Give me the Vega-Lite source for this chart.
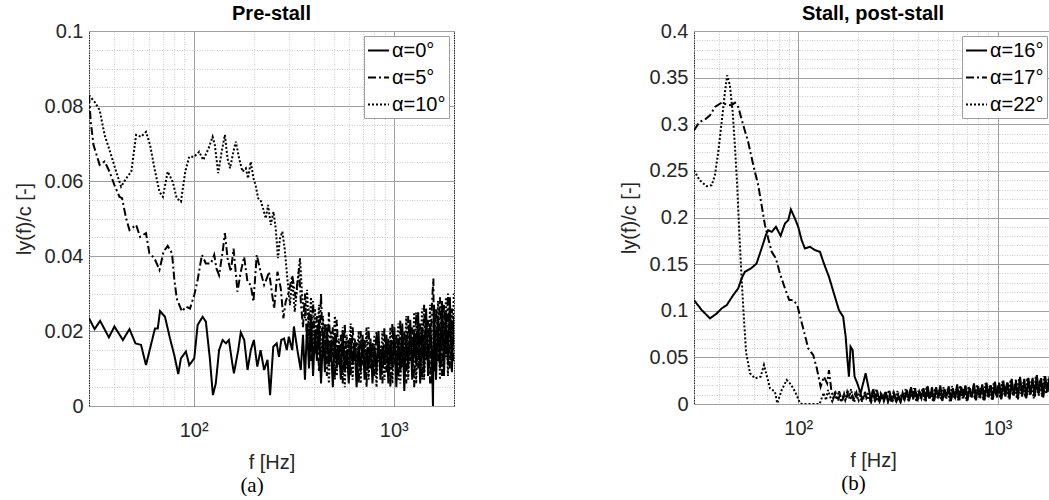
{
"$schema":"https://vega.github.io/schema/vega-lite/v6.json",
"background":"white",
"padding":{"left":13,"top":3,"right":0,"bottom":0},
"config":{
 "font":"Liberation Sans",
 "view":{"stroke":"#262626","strokeWidth":1},
 "axis":{"domain":false,"ticks":false,"labelFont":"Liberation Sans","labelFontSize":20,"labelColor":"#262626","titleFont":"Liberation Sans","titleFontSize":20,"titleFontWeight":"normal","titleColor":"#262626","labelOverlap":false,"labelFlush":false},
 "legend":{"orient":"top-right","offset":5,"fillColor":"white","strokeColor":"#9e9e9e","padding":3,"labelFont":"Liberation Sans","labelFontSize":20,"labelColor":"#000","symbolType":"stroke","symbolSize":441,"symbolStrokeWidth":2,"symbolStrokeColor":"black","rowPadding":5,"labelOffset":2},
 "title":{"font":"Liberation Sans","fontSize":20,"fontWeight":"bold","color":"#000"}
},
"datasets":{
"pre":[
{"s":"α=0°","f":30,"v":0.0234},{"s":"α=0°","f":32,"v":0.0205},{"s":"α=0°","f":34.1,"v":0.0227},{"s":"α=0°","f":37.7,"v":0.0183},{"s":"α=0°","f":40.2,"v":0.0212},{"s":"α=0°","f":44.3,"v":0.0176},{"s":"α=0°","f":47.8,"v":0.0205},{"s":"α=0°","f":51.2,"v":0.0167},{"s":"α=0°","f":54.6,"v":0.0163},{"s":"α=0°","f":57.8,"v":0.0109},{"s":"α=0°","f":61.2,"v":0.0163},{"s":"α=0°","f":64.1,"v":0.0207},{"s":"α=0°","f":66.2,"v":0.0207},{"s":"α=0°","f":67.9,"v":0.0253},{"s":"α=0°","f":71.9,"v":0.0238},{"s":"α=0°","f":76.2,"v":0.018},{"s":"α=0°","f":80,"v":0.0136},{"s":"α=0°","f":83.8,"v":0.0085},{"s":"α=0°","f":86.4,"v":0.0127},{"s":"α=0°","f":91.5,"v":0.0145},{"s":"α=0°","f":95.1,"v":0.0109},{"s":"α=0°","f":100.7,"v":0.0127},{"s":"α=0°","f":104.7,"v":0.0216},{"s":"α=0°","f":110.9,"v":0.0238},{"s":"α=0°","f":115.1,"v":0.0225},{"s":"α=0°","f":120.5,"v":0.0127},{"s":"α=0°","f":124.8,"v":0.0029},{"s":"α=0°","f":129,"v":0.006},{"s":"α=0°","f":134,"v":0.0149},{"s":"α=0°","f":139.6,"v":0.0176},{"s":"α=0°","f":145,"v":0.0167},{"s":"α=0°","f":150,"v":0.0176},{"s":"α=0°","f":156,"v":0.0114},{"s":"α=0°","f":159,"v":0.0087},{"s":"α=0°","f":167,"v":0.0149},{"s":"α=0°","f":172,"v":0.0196},{"s":"α=0°","f":179,"v":0.0176},{"s":"α=0°","f":186,"v":0.0096},{"s":"α=0°","f":193,"v":0.0149},{"s":"α=0°","f":200,"v":0.0176},{"s":"α=0°","f":208,"v":0.0105},{"s":"α=0°","f":216,"v":0.0149},{"s":"α=0°","f":225,"v":0.0096},{"s":"α=0°","f":234,"v":0.0123},{"s":"α=0°","f":241,"v":0.0029},{"s":"α=0°","f":250,"v":0.0158},{"s":"α=0°","f":260,"v":0.0167},{"s":"α=0°","f":267,"v":0.0131},{"s":"α=0°","f":274,"v":0.0176},{"s":"α=0°","f":283,"v":0.018},{"s":"α=0°","f":292,"v":0.0149},{"s":"α=0°","f":299,"v":0.0185},{"s":"α=0°","f":311,"v":0.0149},{"s":"α=0°","f":317,"v":0.0212},{"s":"α=0°","f":330,"v":0.0149},{"s":"α=0°","f":343,"v":0.0096},
{"s":"α=0°","f":352,"v":0.019},{"s":"α=0°","f":360,"v":0.007},{"s":"α=0°","f":369,"v":0.022},{"s":"α=0°","f":377,"v":0.010},{"s":"α=0°","f":386,"v":0.024},{"s":"α=0°","f":395,"v":0.008},{"s":"α=0°","f":404,"v":0.020},{"s":"α=0°","f":413,"v":0.012},{"s":"α=0°","f":423,"v":0.023},{"s":"α=0°","f":433,"v":0.006},{"s":"α=0°","f":443,"v":0.019},{"s":"α=0°","f":453,"v":0.009},{"s":"α=0°","f":463,"v":0.021},{"s":"α=0°","f":474,"v":0.011},{"s":"α=0°","f":485,"v":0.017},{"s":"α=0°","f":496,"v":0.005},{"s":"α=0°","f":508,"v":0.019},{"s":"α=0°","f":519,"v":0.010},{"s":"α=0°","f":531,"v":0.016},{"s":"α=0°","f":544,"v":0.007},{"s":"α=0°","f":556,"v":0.020},{"s":"α=0°","f":569,"v":0.009},{"s":"α=0°","f":582,"v":0.015},{"s":"α=0°","f":596,"v":0.006},{"s":"α=0°","f":609,"v":0.018},{"s":"α=0°","f":623,"v":0.011},{"s":"α=0°","f":638,"v":0.017},{"s":"α=0°","f":652,"v":0.005},{"s":"α=0°","f":668,"v":0.016},{"s":"α=0°","f":683,"v":0.009},{"s":"α=0°","f":699,"v":0.019},{"s":"α=0°","f":715,"v":0.007},{"s":"α=0°","f":731,"v":0.015},{"s":"α=0°","f":748,"v":0.010},{"s":"α=0°","f":765,"v":0.018},{"s":"α=0°","f":783,"v":0.006},{"s":"α=0°","f":801,"v":0.016},{"s":"α=0°","f":820,"v":0.009},{"s":"α=0°","f":839,"v":0.020},{"s":"α=0°","f":858,"v":0.007},{"s":"α=0°","f":878,"v":0.016},{"s":"α=0°","f":898,"v":0.011},{"s":"α=0°","f":919,"v":0.019},{"s":"α=0°","f":940,"v":0.006},{"s":"α=0°","f":962,"v":0.017},{"s":"α=0°","f":984,"v":0.010},{"s":"α=0°","f":1007,"v":0.021},{"s":"α=0°","f":1030,"v":0.005},{"s":"α=0°","f":1054,"v":0.018},{"s":"α=0°","f":1078,"v":0.009},{"s":"α=0°","f":1103,"v":0.022},{"s":"α=0°","f":1129,"v":0.004},{"s":"α=0°","f":1155,"v":0.019},{"s":"α=0°","f":1181,"v":0.010},{"s":"α=0°","f":1209,"v":0.023},{"s":"α=0°","f":1236,"v":0.007},{"s":"α=0°","f":1265,"v":0.020},{"s":"α=0°","f":1294,"v":0.011},{"s":"α=0°","f":1324,"v":0.025},{"s":"α=0°","f":1355,"v":0.006},{"s":"α=0°","f":1386,"v":0.021},{"s":"α=0°","f":1418,"v":0.009},{"s":"α=0°","f":1451,"v":0.026},{"s":"α=0°","f":1484,"v":0.008},{"s":"α=0°","f":1519,"v":0.022},{"s":"α=0°","f":1554,"v":0.012},{"s":"α=0°","f":1570,"v":0.0},{"s":"α=0°","f":1589,"v":0.027},{"s":"α=0°","f":1626,"v":0.007},{"s":"α=0°","f":1664,"v":0.024},{"s":"α=0°","f":1702,"v":0.010},{"s":"α=0°","f":1742,"v":0.028},{"s":"α=0°","f":1782,"v":0.008},{"s":"α=0°","f":1823,"v":0.025},{"s":"α=0°","f":1865,"v":0.011},{"s":"α=0°","f":1908,"v":0.029},{"s":"α=0°","f":1952,"v":0.009},{"s":"α=0°","f":1997,"v":0.024},
{"s":"α=5°","f":30,"v":0.0829},{"s":"α=5°","f":30.6,"v":0.0758},{"s":"α=5°","f":31.6,"v":0.0696},{"s":"α=5°","f":33.9,"v":0.0643},{"s":"α=5°","f":35.9,"v":0.0652},{"s":"α=5°","f":38,"v":0.0625},{"s":"α=5°","f":40.2,"v":0.0589},{"s":"α=5°","f":42.6,"v":0.0558},{"s":"α=5°","f":43.9,"v":0.0554},{"s":"α=5°","f":46,"v":0.05},{"s":"α=5°","f":47.8,"v":0.0469},{"s":"α=5°","f":51.6,"v":0.0483},{"s":"α=5°","f":54,"v":0.0451},{"s":"α=5°","f":57.8,"v":0.0461},{"s":"α=5°","f":60.1,"v":0.0407},{"s":"α=5°","f":63.7,"v":0.0394},{"s":"α=5°","f":67.5,"v":0.0363},{"s":"α=5°","f":70.7,"v":0.0411},{"s":"α=5°","f":74.2,"v":0.0427},{"s":"α=5°","f":78,"v":0.0407},{"s":"α=5°","f":80,"v":0.034},{"s":"α=5°","f":82.3,"v":0.0287},{"s":"α=5°","f":87.4,"v":0.0252},{"s":"α=5°","f":91.5,"v":0.0265},{"s":"α=5°","f":95.9,"v":0.026},{"s":"α=5°","f":100.7,"v":0.0296},{"s":"α=5°","f":104.7,"v":0.0336},{"s":"α=5°","f":110,"v":0.0403},{"s":"α=5°","f":115.1,"v":0.038},{"s":"α=5°","f":122,"v":0.038},{"s":"α=5°","f":126.7,"v":0.0403},{"s":"α=5°","f":130,"v":0.0367},{"s":"α=5°","f":134,"v":0.0349},{"s":"α=5°","f":139.6,"v":0.0411},{"s":"α=5°","f":143.3,"v":0.0461},{"s":"α=5°","f":147.7,"v":0.0394},{"s":"α=5°","f":153.4,"v":0.0358},{"s":"α=5°","f":158.3,"v":0.042},{"s":"α=5°","f":165.6,"v":0.0305},{"s":"α=5°","f":172,"v":0.0358},{"s":"α=5°","f":178.8,"v":0.0398},{"s":"α=5°","f":185.8,"v":0.0331},{"s":"α=5°","f":192.9,"v":0.0323},{"s":"α=5°","f":199,"v":0.0278},{"s":"α=5°","f":206.7,"v":0.0403},{"s":"α=5°","f":216,"v":0.0358},{"s":"α=5°","f":225,"v":0.0323},{"s":"α=5°","f":232,"v":0.034},{"s":"α=5°","f":238,"v":0.0358},{"s":"α=5°","f":245.7,"v":0.0305},{"s":"α=5°","f":252.5,"v":0.026},{"s":"α=5°","f":262.4,"v":0.0358},{"s":"α=5°","f":272.5,"v":0.0314},{"s":"α=5°","f":280.8,"v":0.0234},{"s":"α=5°","f":288.3,"v":0.0278},{"s":"α=5°","f":299.4,"v":0.0305},{"s":"α=5°","f":311,"v":0.0349},{"s":"α=5°","f":323.6,"v":0.0287},{"s":"α=5°","f":336,"v":0.0367},
{"s":"α=5°","f":344,"v":0.027},{"s":"α=5°","f":352,"v":0.021},{"s":"α=5°","f":360,"v":0.030},{"s":"α=5°","f":369,"v":0.016},{"s":"α=5°","f":377,"v":0.026},{"s":"α=5°","f":386,"v":0.012},{"s":"α=5°","f":395,"v":0.028},{"s":"α=5°","f":404,"v":0.014},{"s":"α=5°","f":413,"v":0.024},{"s":"α=5°","f":423,"v":0.009},{"s":"α=5°","f":433,"v":0.030},{"s":"α=5°","f":443,"v":0.013},{"s":"α=5°","f":453,"v":0.022},{"s":"α=5°","f":463,"v":0.008},{"s":"α=5°","f":474,"v":0.025},{"s":"α=5°","f":485,"v":0.012},{"s":"α=5°","f":496,"v":0.021},{"s":"α=5°","f":508,"v":0.007},{"s":"α=5°","f":519,"v":0.023},{"s":"α=5°","f":531,"v":0.011},{"s":"α=5°","f":544,"v":0.019},{"s":"α=5°","f":556,"v":0.006},{"s":"α=5°","f":569,"v":0.022},{"s":"α=5°","f":582,"v":0.010},{"s":"α=5°","f":596,"v":0.018},{"s":"α=5°","f":609,"v":0.008},{"s":"α=5°","f":623,"v":0.021},{"s":"α=5°","f":638,"v":0.012},{"s":"α=5°","f":652,"v":0.017},{"s":"α=5°","f":668,"v":0.006},{"s":"α=5°","f":683,"v":0.020},{"s":"α=5°","f":699,"v":0.011},{"s":"α=5°","f":715,"v":0.018},{"s":"α=5°","f":731,"v":0.005},{"s":"α=5°","f":748,"v":0.021},{"s":"α=5°","f":765,"v":0.010},{"s":"α=5°","f":783,"v":0.017},{"s":"α=5°","f":801,"v":0.008},{"s":"α=5°","f":820,"v":0.020},{"s":"α=5°","f":839,"v":0.012},{"s":"α=5°","f":858,"v":0.016},{"s":"α=5°","f":878,"v":0.006},{"s":"α=5°","f":898,"v":0.021},{"s":"α=5°","f":919,"v":0.009},{"s":"α=5°","f":940,"v":0.018},{"s":"α=5°","f":962,"v":0.005},{"s":"α=5°","f":984,"v":0.022},{"s":"α=5°","f":1007,"v":0.011},{"s":"α=5°","f":1030,"v":0.019},{"s":"α=5°","f":1054,"v":0.007},{"s":"α=5°","f":1078,"v":0.023},{"s":"α=5°","f":1103,"v":0.010},{"s":"α=5°","f":1129,"v":0.020},{"s":"α=5°","f":1155,"v":0.006},{"s":"α=5°","f":1181,"v":0.024},{"s":"α=5°","f":1209,"v":0.012},{"s":"α=5°","f":1236,"v":0.021},{"s":"α=5°","f":1265,"v":0.005},{"s":"α=5°","f":1294,"v":0.025},{"s":"α=5°","f":1324,"v":0.010},{"s":"α=5°","f":1355,"v":0.022},{"s":"α=5°","f":1386,"v":0.007},{"s":"α=5°","f":1418,"v":0.027},{"s":"α=5°","f":1451,"v":0.012},{"s":"α=5°","f":1484,"v":0.023},{"s":"α=5°","f":1519,"v":0.006},{"s":"α=5°","f":1554,"v":0.028},{"s":"α=5°","f":1578,"v":0.034},{"s":"α=5°","f":1589,"v":0.009},{"s":"α=5°","f":1626,"v":0.026},{"s":"α=5°","f":1664,"v":0.012},{"s":"α=5°","f":1702,"v":0.029},{"s":"α=5°","f":1742,"v":0.008},{"s":"α=5°","f":1782,"v":0.027},{"s":"α=5°","f":1823,"v":0.013},{"s":"α=5°","f":1865,"v":0.030},{"s":"α=5°","f":1908,"v":0.010},{"s":"α=5°","f":1952,"v":0.026},{"s":"α=5°","f":1997,"v":0.012},
{"s":"α=10°","f":30,"v":0.0829},{"s":"α=10°","f":32,"v":0.0811},{"s":"α=10°","f":33.9,"v":0.0789},{"s":"α=10°","f":35.9,"v":0.0723},{"s":"α=10°","f":38.7,"v":0.0669},{"s":"α=10°","f":41,"v":0.0625},{"s":"α=10°","f":43.4,"v":0.0585},{"s":"α=10°","f":46,"v":0.0607},{"s":"α=10°","f":48.8,"v":0.0625},{"s":"α=10°","f":51.6,"v":0.0723},{"s":"α=10°","f":54.6,"v":0.0718},{"s":"α=10°","f":57.8,"v":0.0731},{"s":"α=10°","f":60.6,"v":0.0696},{"s":"α=10°","f":63.7,"v":0.0634},{"s":"α=10°","f":67.5,"v":0.0571},{"s":"α=10°","f":70.2,"v":0.0558},{"s":"α=10°","f":74.2,"v":0.0625},{"s":"α=10°","f":78.6,"v":0.0598},{"s":"α=10°","f":82.3,"v":0.0554},{"s":"α=10°","f":86.4,"v":0.0545},{"s":"α=10°","f":90.8,"v":0.0625},{"s":"α=10°","f":95.1,"v":0.0665},{"s":"α=10°","f":100.7,"v":0.0665},{"s":"α=10°","f":106.6,"v":0.0678},{"s":"α=10°","f":111.7,"v":0.0656},{"s":"α=10°","f":118.8,"v":0.0687},{"s":"α=10°","f":124.4,"v":0.0718},{"s":"α=10°","f":127.6,"v":0.0696},{"s":"α=10°","f":132.7,"v":0.0621},{"s":"α=10°","f":138,"v":0.0678},{"s":"α=10°","f":143.3,"v":0.0723},{"s":"α=10°","f":147.7,"v":0.066},{"s":"α=10°","f":152,"v":0.0634},{"s":"α=10°","f":158,"v":0.0678},{"s":"α=10°","f":162.5,"v":0.0705},{"s":"α=10°","f":168.8,"v":0.066},{"s":"α=10°","f":175.4,"v":0.0625},{"s":"α=10°","f":182.3,"v":0.0634},{"s":"α=10°","f":187,"v":0.0607},{"s":"α=10°","f":192.9,"v":0.0651},{"s":"α=10°","f":199,"v":0.0607},{"s":"α=10°","f":204,"v":0.0589},{"s":"α=10°","f":210,"v":0.0554},{"s":"α=10°","f":216,"v":0.0549},{"s":"α=10°","f":223.3,"v":0.0523},{"s":"α=10°","f":229.4,"v":0.05},{"s":"α=10°","f":235.5,"v":0.0536},{"s":"α=10°","f":242.9,"v":0.0483},{"s":"α=10°","f":250.6,"v":0.0518},{"s":"α=10°","f":257,"v":0.0474},{"s":"α=10°","f":264,"v":0.0394},{"s":"α=10°","f":270,"v":0.0447},{"s":"α=10°","f":277.5,"v":0.0465},{"s":"α=10°","f":285,"v":0.042},{"s":"α=10°","f":294,"v":0.034},{"s":"α=10°","f":303,"v":0.0269},{"s":"α=10°","f":311,"v":0.034},{"s":"α=10°","f":320,"v":0.0251},{"s":"α=10°","f":330,"v":0.0323},{"s":"α=10°","f":340,"v":0.0394},{"s":"α=10°","f":349,"v":0.0287},{"s":"α=10°","f":359,"v":0.0234},
{"s":"α=10°","f":369,"v":0.031},{"s":"α=10°","f":377,"v":0.018},{"s":"α=10°","f":386,"v":0.029},{"s":"α=10°","f":395,"v":0.012},{"s":"α=10°","f":404,"v":0.026},{"s":"α=10°","f":413,"v":0.015},{"s":"α=10°","f":423,"v":0.027},{"s":"α=10°","f":433,"v":0.007},{"s":"α=10°","f":443,"v":0.024},{"s":"α=10°","f":453,"v":0.012},{"s":"α=10°","f":463,"v":0.022},{"s":"α=10°","f":474,"v":0.006},{"s":"α=10°","f":485,"v":0.020},{"s":"α=10°","f":496,"v":0.013},{"s":"α=10°","f":508,"v":0.024},{"s":"α=10°","f":519,"v":0.008},{"s":"α=10°","f":531,"v":0.018},{"s":"α=10°","f":544,"v":0.012},{"s":"α=10°","f":556,"v":0.021},{"s":"α=10°","f":569,"v":0.005},{"s":"α=10°","f":582,"v":0.019},{"s":"α=10°","f":596,"v":0.010},{"s":"α=10°","f":609,"v":0.022},{"s":"α=10°","f":623,"v":0.007},{"s":"α=10°","f":638,"v":0.018},{"s":"α=10°","f":652,"v":0.011},{"s":"α=10°","f":668,"v":0.020},{"s":"α=10°","f":683,"v":0.006},{"s":"α=10°","f":699,"v":0.017},{"s":"α=10°","f":715,"v":0.010},{"s":"α=10°","f":731,"v":0.021},{"s":"α=10°","f":748,"v":0.007},{"s":"α=10°","f":765,"v":0.016},{"s":"α=10°","f":783,"v":0.011},{"s":"α=10°","f":801,"v":0.019},{"s":"α=10°","f":820,"v":0.005},{"s":"α=10°","f":839,"v":0.017},{"s":"α=10°","f":858,"v":0.010},{"s":"α=10°","f":878,"v":0.020},{"s":"α=10°","f":898,"v":0.007},{"s":"α=10°","f":919,"v":0.016},{"s":"α=10°","f":940,"v":0.011},{"s":"α=10°","f":962,"v":0.021},{"s":"α=10°","f":984,"v":0.006},{"s":"α=10°","f":1007,"v":0.018},{"s":"α=10°","f":1030,"v":0.012},{"s":"α=10°","f":1054,"v":0.022},{"s":"α=10°","f":1078,"v":0.006},{"s":"α=10°","f":1103,"v":0.019},{"s":"α=10°","f":1129,"v":0.011},{"s":"α=10°","f":1155,"v":0.024},{"s":"α=10°","f":1181,"v":0.007},{"s":"α=10°","f":1209,"v":0.020},{"s":"α=10°","f":1236,"v":0.010},{"s":"α=10°","f":1265,"v":0.025},{"s":"α=10°","f":1294,"v":0.006},{"s":"α=10°","f":1324,"v":0.021},{"s":"α=10°","f":1355,"v":0.012},{"s":"α=10°","f":1386,"v":0.026},{"s":"α=10°","f":1418,"v":0.007},{"s":"α=10°","f":1451,"v":0.022},{"s":"α=10°","f":1484,"v":0.010},{"s":"α=10°","f":1519,"v":0.027},{"s":"α=10°","f":1554,"v":0.006},{"s":"α=10°","f":1589,"v":0.024},{"s":"α=10°","f":1626,"v":0.011},{"s":"α=10°","f":1664,"v":0.028},{"s":"α=10°","f":1702,"v":0.007},{"s":"α=10°","f":1742,"v":0.025},{"s":"α=10°","f":1782,"v":0.012},{"s":"α=10°","f":1823,"v":0.029},{"s":"α=10°","f":1865,"v":0.008},{"s":"α=10°","f":1908,"v":0.027},{"s":"α=10°","f":1952,"v":0.013},{"s":"α=10°","f":1997,"v":0.030}
],
"post":[
{"s":"α=16°","f":30,"v":0.1114},{"s":"α=16°","f":32.8,"v":0.1007},{"s":"α=16°","f":36.1,"v":0.0918},{"s":"α=16°","f":39,"v":0.0971},{"s":"α=16°","f":41.3,"v":0.1025},{"s":"α=16°","f":43.8,"v":0.1061},{"s":"α=16°","f":47.2,"v":0.1168},{"s":"α=16°","f":50,"v":0.124},{"s":"α=16°","f":52,"v":0.1347},{"s":"α=16°","f":54,"v":0.1418},{"s":"α=16°","f":58.4,"v":0.146},{"s":"α=16°","f":61.8,"v":0.1507},{"s":"α=16°","f":65.5,"v":0.1668},{"s":"α=16°","f":68.8,"v":0.1811},{"s":"α=16°","f":70.7,"v":0.1864},{"s":"α=16°","f":73.6,"v":0.1846},{"s":"α=16°","f":77.3,"v":0.19},{"s":"α=16°","f":81.6,"v":0.1804},{"s":"α=16°","f":85.8,"v":0.1936},{"s":"α=16°","f":89.1,"v":0.1971},{"s":"α=16°","f":91.9,"v":0.2086},{"s":"α=16°","f":96.2,"v":0.199},{"s":"α=16°","f":100,"v":0.19},{"s":"α=16°","f":104,"v":0.1757},{"s":"α=16°","f":108,"v":0.1668},{"s":"α=16°","f":114.5,"v":0.1686},{"s":"α=16°","f":121.4,"v":0.165},{"s":"α=16°","f":128.5,"v":0.1632},{"s":"α=16°","f":134.5,"v":0.1507},{"s":"α=16°","f":142.6,"v":0.1364},{"s":"α=16°","f":151,"v":0.1186},{"s":"α=16°","f":160,"v":0.1007},{"s":"α=16°","f":168,"v":0.0936},{"s":"α=16°","f":173,"v":0.0721},{"s":"α=16°","f":176,"v":0.0507},{"s":"α=16°","f":179.6,"v":0.0293},{"s":"α=16°","f":183,"v":0.0614},{"s":"α=16°","f":187.4,"v":0.0579},{"s":"α=16°","f":191.7,"v":0.0293},{"s":"α=16°","f":197.8,"v":0.0222},{"s":"α=16°","f":205.6,"v":0.0115},{"s":"α=16°","f":217.8,"v":0.0329},{"s":"α=16°","f":226.4,"v":0.015},
{"s":"α=16°","f":232,"v":0.004},{"s":"α=16°","f":238,"v":0.016},{"s":"α=16°","f":244,"v":0.006},{"s":"α=16°","f":250,"v":0.012},{"s":"α=16°","f":256,"v":0.003},{"s":"α=16°","f":262,"v":0.010},{"s":"α=16°","f":269,"v":0.005},{"s":"α=16°","f":275,"v":0.013},{"s":"α=16°","f":282,"v":0.002},{"s":"α=16°","f":289,"v":0.009},{"s":"α=16°","f":296,"v":0.004},{"s":"α=16°","f":303,"v":0.011},{"s":"α=16°","f":311,"v":0.003},{"s":"α=16°","f":318,"v":0.008},{"s":"α=16°","f":326,"v":0.002},{"s":"α=16°","f":334,"v":0.012},{"s":"α=16°","f":342,"v":0.005},{"s":"α=16°","f":351,"v":0.015},{"s":"α=16°","f":359,"v":0.004},{"s":"α=16°","f":368,"v":0.018},{"s":"α=16°","f":377,"v":0.006},{"s":"α=16°","f":386,"v":0.016},{"s":"α=16°","f":396,"v":0.003},{"s":"α=16°","f":405,"v":0.014},{"s":"α=16°","f":415,"v":0.007},{"s":"α=16°","f":425,"v":0.017},{"s":"α=16°","f":436,"v":0.004},{"s":"α=16°","f":446,"v":0.019},{"s":"α=16°","f":457,"v":0.006},{"s":"α=16°","f":469,"v":0.015},{"s":"α=16°","f":480,"v":0.003},{"s":"α=16°","f":492,"v":0.018},{"s":"α=16°","f":504,"v":0.007},{"s":"α=16°","f":516,"v":0.020},{"s":"α=16°","f":529,"v":0.004},{"s":"α=16°","f":542,"v":0.016},{"s":"α=16°","f":555,"v":0.008},{"s":"α=16°","f":569,"v":0.019},{"s":"α=16°","f":583,"v":0.003},{"s":"α=16°","f":597,"v":0.017},{"s":"α=16°","f":612,"v":0.006},{"s":"α=16°","f":627,"v":0.021},{"s":"α=16°","f":642,"v":0.005},{"s":"α=16°","f":658,"v":0.018},{"s":"α=16°","f":674,"v":0.008},{"s":"α=16°","f":690,"v":0.020},{"s":"α=16°","f":707,"v":0.004},{"s":"α=16°","f":725,"v":0.017},{"s":"α=16°","f":742,"v":0.007},{"s":"α=16°","f":761,"v":0.022},{"s":"α=16°","f":779,"v":0.005},{"s":"α=16°","f":799,"v":0.019},{"s":"α=16°","f":818,"v":0.008},{"s":"α=16°","f":838,"v":0.021},{"s":"α=16°","f":859,"v":0.004},{"s":"α=16°","f":880,"v":0.023},{"s":"α=16°","f":901,"v":0.007},{"s":"α=16°","f":924,"v":0.020},{"s":"α=16°","f":946,"v":0.005},{"s":"α=16°","f":970,"v":0.024},{"s":"α=16°","f":993,"v":0.009},{"s":"α=16°","f":1018,"v":0.022},{"s":"α=16°","f":1043,"v":0.006},{"s":"α=16°","f":1068,"v":0.025},{"s":"α=16°","f":1094,"v":0.008},{"s":"α=16°","f":1121,"v":0.023},{"s":"α=16°","f":1149,"v":0.005},{"s":"α=16°","f":1177,"v":0.027},{"s":"α=16°","f":1206,"v":0.009},{"s":"α=16°","f":1235,"v":0.024},{"s":"α=16°","f":1266,"v":0.006},{"s":"α=16°","f":1297,"v":0.029},{"s":"α=16°","f":1328,"v":0.010},{"s":"α=16°","f":1361,"v":0.025},{"s":"α=16°","f":1394,"v":0.007},{"s":"α=16°","f":1428,"v":0.028},{"s":"α=16°","f":1463,"v":0.011},{"s":"α=16°","f":1499,"v":0.026},{"s":"α=16°","f":1536,"v":0.008},{"s":"α=16°","f":1574,"v":0.031},{"s":"α=16°","f":1612,"v":0.012},{"s":"α=16°","f":1652,"v":0.027},{"s":"α=16°","f":1692,"v":0.009},{"s":"α=16°","f":1734,"v":0.030},{"s":"α=16°","f":1776,"v":0.013},{"s":"α=16°","f":1820,"v":0.028},{"s":"α=16°","f":1865,"v":0.010},{"s":"α=16°","f":1890,"v":0.026},
{"s":"α=17°","f":30,"v":0.2936},{"s":"α=17°","f":32,"v":0.3025},{"s":"α=17°","f":34,"v":0.305},{"s":"α=17°","f":36.1,"v":0.3096},{"s":"α=17°","f":38.2,"v":0.3186},{"s":"α=17°","f":41.3,"v":0.3232},{"s":"α=17°","f":43.8,"v":0.3211},{"s":"α=17°","f":46.3,"v":0.3204},{"s":"α=17°","f":48.1,"v":0.3232},{"s":"α=17°","f":50,"v":0.3186},{"s":"α=17°","f":53,"v":0.2989},{"s":"α=17°","f":56.1,"v":0.281},{"s":"α=17°","f":59.5,"v":0.2561},{"s":"α=17°","f":63,"v":0.2346},{"s":"α=17°","f":65.5,"v":0.2132},{"s":"α=17°","f":68.1,"v":0.1918},{"s":"α=17°","f":70.7,"v":0.1775},{"s":"α=17°","f":73.6,"v":0.1632},{"s":"α=17°","f":77.3,"v":0.1561},{"s":"α=17°","f":80.9,"v":0.14},{"s":"α=17°","f":85.8,"v":0.124},{"s":"α=17°","f":90.1,"v":0.1114},{"s":"α=17°","f":94.4,"v":0.1114},{"s":"α=17°","f":98.9,"v":0.1061},{"s":"α=17°","f":102.8,"v":0.0918},{"s":"α=17°","f":108,"v":0.0739},{"s":"α=17°","f":112.2,"v":0.0597},{"s":"α=17°","f":118.9,"v":0.0525},{"s":"α=17°","f":124,"v":0.038},{"s":"α=17°","f":129.5,"v":0.0185},{"s":"α=17°","f":134.5,"v":0.0293},{"s":"α=17°","f":139.7,"v":0.0222},{"s":"α=17°","f":142.6,"v":0.0364},{"s":"α=17°","f":146.5,"v":0.015},
{"s":"α=17°","f":150,"v":0.006},{"s":"α=17°","f":154,"v":0.012},{"s":"α=17°","f":158,"v":0.003},{"s":"α=17°","f":162,"v":0.010},{"s":"α=17°","f":166,"v":0.002},{"s":"α=17°","f":170,"v":0.011},{"s":"α=17°","f":174,"v":0.004},{"s":"α=17°","f":178,"v":0.014},{"s":"α=17°","f":182,"v":0.005},{"s":"α=17°","f":187,"v":0.009},{"s":"α=17°","f":191,"v":0.002},{"s":"α=17°","f":196,"v":0.012},{"s":"α=17°","f":201,"v":0.004},{"s":"α=17°","f":206,"v":0.010},{"s":"α=17°","f":211,"v":0.003},{"s":"α=17°","f":216,"v":0.013},{"s":"α=17°","f":221,"v":0.005},{"s":"α=17°","f":226,"v":0.009},{"s":"α=17°","f":232,"v":0.002},{"s":"α=17°","f":238,"v":0.011},{"s":"α=17°","f":244,"v":0.004},{"s":"α=17°","f":250,"v":0.008},{"s":"α=17°","f":256,"v":0.002},{"s":"α=17°","f":262,"v":0.012},{"s":"α=17°","f":269,"v":0.003},{"s":"α=17°","f":275,"v":0.009},{"s":"α=17°","f":282,"v":0.005},{"s":"α=17°","f":289,"v":0.011},{"s":"α=17°","f":296,"v":0.002},{"s":"α=17°","f":303,"v":0.008},{"s":"α=17°","f":311,"v":0.004},{"s":"α=17°","f":318,"v":0.012},{"s":"α=17°","f":326,"v":0.003},{"s":"α=17°","f":334,"v":0.009},{"s":"α=17°","f":342,"v":0.006},{"s":"α=17°","f":351,"v":0.014},{"s":"α=17°","f":359,"v":0.003},{"s":"α=17°","f":368,"v":0.012},{"s":"α=17°","f":377,"v":0.005},{"s":"α=17°","f":386,"v":0.017},{"s":"α=17°","f":396,"v":0.004},{"s":"α=17°","f":405,"v":0.013},{"s":"α=17°","f":415,"v":0.006},{"s":"α=17°","f":425,"v":0.015},{"s":"α=17°","f":436,"v":0.003},{"s":"α=17°","f":446,"v":0.012},{"s":"α=17°","f":457,"v":0.007},{"s":"α=17°","f":469,"v":0.018},{"s":"α=17°","f":480,"v":0.004},{"s":"α=17°","f":492,"v":0.014},{"s":"α=17°","f":504,"v":0.006},{"s":"α=17°","f":516,"v":0.016},{"s":"α=17°","f":529,"v":0.003},{"s":"α=17°","f":542,"v":0.015},{"s":"α=17°","f":555,"v":0.006},{"s":"α=17°","f":569,"v":0.017},{"s":"α=17°","f":583,"v":0.004},{"s":"α=17°","f":597,"v":0.013},{"s":"α=17°","f":612,"v":0.007},{"s":"α=17°","f":627,"v":0.018},{"s":"α=17°","f":642,"v":0.003},{"s":"α=17°","f":658,"v":0.016},{"s":"α=17°","f":674,"v":0.006},{"s":"α=17°","f":690,"v":0.019},{"s":"α=17°","f":707,"v":0.005},{"s":"α=17°","f":725,"v":0.015},{"s":"α=17°","f":742,"v":0.008},{"s":"α=17°","f":761,"v":0.020},{"s":"α=17°","f":779,"v":0.004},{"s":"α=17°","f":799,"v":0.017},{"s":"α=17°","f":818,"v":0.006},{"s":"α=17°","f":838,"v":0.020},{"s":"α=17°","f":859,"v":0.005},{"s":"α=17°","f":880,"v":0.018},{"s":"α=17°","f":901,"v":0.008},{"s":"α=17°","f":924,"v":0.021},{"s":"α=17°","f":946,"v":0.004},{"s":"α=17°","f":970,"v":0.019},{"s":"α=17°","f":993,"v":0.007},{"s":"α=17°","f":1018,"v":0.023},{"s":"α=17°","f":1043,"v":0.005},{"s":"α=17°","f":1068,"v":0.020},{"s":"α=17°","f":1094,"v":0.009},{"s":"α=17°","f":1121,"v":0.024},{"s":"α=17°","f":1149,"v":0.006},{"s":"α=17°","f":1177,"v":0.021},{"s":"α=17°","f":1206,"v":0.010},{"s":"α=17°","f":1235,"v":0.026},{"s":"α=17°","f":1266,"v":0.005},{"s":"α=17°","f":1297,"v":0.022},{"s":"α=17°","f":1328,"v":0.008},{"s":"α=17°","f":1361,"v":0.027},{"s":"α=17°","f":1394,"v":0.006},{"s":"α=17°","f":1428,"v":0.023},{"s":"α=17°","f":1463,"v":0.010},{"s":"α=17°","f":1499,"v":0.028},{"s":"α=17°","f":1536,"v":0.007},{"s":"α=17°","f":1574,"v":0.024},{"s":"α=17°","f":1612,"v":0.009},{"s":"α=17°","f":1652,"v":0.029},{"s":"α=17°","f":1692,"v":0.006},{"s":"α=17°","f":1734,"v":0.025},{"s":"α=17°","f":1776,"v":0.011},{"s":"α=17°","f":1820,"v":0.030},{"s":"α=17°","f":1865,"v":0.008},{"s":"α=17°","f":1890,"v":0.022},
{"s":"α=22°","f":30,"v":0.2507},{"s":"α=22°","f":32,"v":0.24},{"s":"α=22°","f":34.7,"v":0.2336},{"s":"α=22°","f":36.8,"v":0.2346},{"s":"α=22°","f":38.2,"v":0.2454},{"s":"α=22°","f":39.7,"v":0.2703},{"s":"α=22°","f":41.3,"v":0.3025},{"s":"α=22°","f":42.9,"v":0.3346},{"s":"α=22°","f":44,"v":0.3525},{"s":"α=22°","f":45.4,"v":0.3418},{"s":"α=22°","f":46.9,"v":0.3132},{"s":"α=22°","f":48.1,"v":0.2775},{"s":"α=22°","f":49.4,"v":0.2346},{"s":"α=22°","f":50.6,"v":0.1846},{"s":"α=22°","f":52,"v":0.1347},{"s":"α=22°","f":53.4,"v":0.0918},{"s":"α=22°","f":54.7,"v":0.056},{"s":"α=22°","f":57.3,"v":0.0329},{"s":"α=22°","f":60.7,"v":0.0275},{"s":"α=22°","f":64.8,"v":0.0293},{"s":"α=22°","f":67.3,"v":0.0418},{"s":"α=22°","f":69.4,"v":0.0311},{"s":"α=22°","f":72.2,"v":0.0168},{"s":"α=22°","f":76.4,"v":0.0132},{"s":"α=22°","f":78.5,"v":0.0008},{"s":"α=22°","f":82.6,"v":0.015},{"s":"α=22°","f":87.5,"v":0.0257},{"s":"α=22°","f":90.9,"v":0.0222},{"s":"α=22°","f":94.4,"v":0.0168},{"s":"α=22°","f":98.2,"v":0.0096},{"s":"α=22°","f":102,"v":0.0008},{"s":"α=22°","f":105,"v":0},{"s":"α=22°","f":115,"v":0},{"s":"α=22°","f":125,"v":0},
{"s":"α=22°","f":128,"v":0.0},{"s":"α=22°","f":131,"v":0.006},{"s":"α=22°","f":134,"v":0.012},{"s":"α=22°","f":138,"v":0.004},{"s":"α=22°","f":141,"v":0.015},{"s":"α=22°","f":145,"v":0.007},{"s":"α=22°","f":148,"v":0.003},{"s":"α=22°","f":152,"v":0.011},{"s":"α=22°","f":156,"v":0.005},{"s":"α=22°","f":160,"v":0.014},{"s":"α=22°","f":164,"v":0.002},{"s":"α=22°","f":168,"v":0.010},{"s":"α=22°","f":172,"v":0.004},{"s":"α=22°","f":176,"v":0.013},{"s":"α=22°","f":180,"v":0.006},{"s":"α=22°","f":184,"v":0.016},{"s":"α=22°","f":189,"v":0.003},{"s":"α=22°","f":193,"v":0.011},{"s":"α=22°","f":198,"v":0.005},{"s":"α=22°","f":203,"v":0.014},{"s":"α=22°","f":208,"v":0.002},{"s":"α=22°","f":213,"v":0.010},{"s":"α=22°","f":219,"v":0.006},{"s":"α=22°","f":224,"v":0.013},{"s":"α=22°","f":229,"v":0.003},{"s":"α=22°","f":235,"v":0.012},{"s":"α=22°","f":241,"v":0.005},{"s":"α=22°","f":247,"v":0.016},{"s":"α=22°","f":253,"v":0.002},{"s":"α=22°","f":259,"v":0.011},{"s":"α=22°","f":266,"v":0.004},{"s":"α=22°","f":272,"v":0.013},{"s":"α=22°","f":279,"v":0.006},{"s":"α=22°","f":285,"v":0.015},{"s":"α=22°","f":292,"v":0.002},{"s":"α=22°","f":300,"v":0.012},{"s":"α=22°","f":307,"v":0.005},{"s":"α=22°","f":314,"v":0.014},{"s":"α=22°","f":322,"v":0.003},{"s":"α=22°","f":330,"v":0.011},{"s":"α=22°","f":338,"v":0.006},{"s":"α=22°","f":346,"v":0.016},{"s":"α=22°","f":355,"v":0.004},{"s":"α=22°","f":363,"v":0.013},{"s":"α=22°","f":372,"v":0.007},{"s":"α=22°","f":381,"v":0.017},{"s":"α=22°","f":391,"v":0.003},{"s":"α=22°","f":400,"v":0.014},{"s":"α=22°","f":410,"v":0.006},{"s":"α=22°","f":420,"v":0.016},{"s":"α=22°","f":430,"v":0.004},{"s":"α=22°","f":441,"v":0.019},{"s":"α=22°","f":452,"v":0.006},{"s":"α=22°","f":463,"v":0.014},{"s":"α=22°","f":474,"v":0.003},{"s":"α=22°","f":486,"v":0.017},{"s":"α=22°","f":498,"v":0.007},{"s":"α=22°","f":510,"v":0.015},{"s":"α=22°","f":522,"v":0.004},{"s":"α=22°","f":535,"v":0.018},{"s":"α=22°","f":548,"v":0.006},{"s":"α=22°","f":562,"v":0.016},{"s":"α=22°","f":576,"v":0.003},{"s":"α=22°","f":590,"v":0.019},{"s":"α=22°","f":604,"v":0.007},{"s":"α=22°","f":619,"v":0.016},{"s":"α=22°","f":634,"v":0.004},{"s":"α=22°","f":650,"v":0.020},{"s":"α=22°","f":666,"v":0.006},{"s":"α=22°","f":682,"v":0.017},{"s":"α=22°","f":699,"v":0.003},{"s":"α=22°","f":716,"v":0.019},{"s":"α=22°","f":733,"v":0.008},{"s":"α=22°","f":751,"v":0.016},{"s":"α=22°","f":770,"v":0.005},{"s":"α=22°","f":789,"v":0.021},{"s":"α=22°","f":808,"v":0.007},{"s":"α=22°","f":828,"v":0.018},{"s":"α=22°","f":848,"v":0.004},{"s":"α=22°","f":869,"v":0.022},{"s":"α=22°","f":890,"v":0.008},{"s":"α=22°","f":912,"v":0.019},{"s":"α=22°","f":935,"v":0.005},{"s":"α=22°","f":958,"v":0.023},{"s":"α=22°","f":981,"v":0.009},{"s":"α=22°","f":1005,"v":0.020},{"s":"α=22°","f":1030,"v":0.006},{"s":"α=22°","f":1055,"v":0.024},{"s":"α=22°","f":1081,"v":0.010},{"s":"α=22°","f":1108,"v":0.021},{"s":"α=22°","f":1135,"v":0.007},{"s":"α=22°","f":1163,"v":0.026},{"s":"α=22°","f":1191,"v":0.009},{"s":"α=22°","f":1220,"v":0.022},{"s":"α=22°","f":1250,"v":0.006},{"s":"α=22°","f":1281,"v":0.027},{"s":"α=22°","f":1312,"v":0.011},{"s":"α=22°","f":1344,"v":0.023},{"s":"α=22°","f":1377,"v":0.007},{"s":"α=22°","f":1411,"v":0.028},{"s":"α=22°","f":1445,"v":0.010},{"s":"α=22°","f":1481,"v":0.025},{"s":"α=22°","f":1517,"v":0.006},{"s":"α=22°","f":1554,"v":0.029},{"s":"α=22°","f":1592,"v":0.012},{"s":"α=22°","f":1631,"v":0.026},{"s":"α=22°","f":1671,"v":0.008},{"s":"α=22°","f":1712,"v":0.030},{"s":"α=22°","f":1754,"v":0.011},{"s":"α=22°","f":1797,"v":0.027},{"s":"α=22°","f":1841,"v":0.009},{"s":"α=22°","f":1875,"v":0.025}
]
},
"hconcat":[
{"vconcat":[{
 "title":{"text":"Pre-stall","offset":-3},
 "width":365,"height":375,
 "data":{"name":"pre"},
 "mark":{"type":"line","color":"black","strokeWidth":2,"clip":true},
 "encoding":{
  "x":{"field":"f","type":"quantitative","scale":{"type":"log","domain":[30,2000],"nice":false},
   "axis":{"title":"f [Hz]","values":[30,40,50,60,70,80,90,100,200,300,400,500,600,700,800,900,1000,2000],
    "labelExpr":"datum.value == 100 ? '10²' : datum.value == 1000 ? '10³' : ''","labelPadding":14,"titlePadding":12,
    "gridColor":{"condition":{"test":"datum.value == 100 || datum.value == 1000","value":"#a0a0a0"},"value":"#cccccc"},
    "gridDash":{"condition":{"test":"datum.value == 100 || datum.value == 1000","value":[]},"value":[1,1.5]}}},
  "y":{"field":"v","type":"quantitative","scale":{"domain":[0,0.1],"nice":false,"zero":false},
   "axis":{"title":"ly(f)/c [-]","values":[0,0.005,0.01,0.015,0.02,0.025,0.03,0.035,0.04,0.045,0.05,0.055,0.06,0.065,0.07,0.075,0.08,0.085,0.09,0.095,0.1],
    "labelExpr":"abs(datum.value/0.02 - round(datum.value/0.02)) < 0.001 ? datum.value + '' : ''","labelPadding":6,"titlePadding":10,
    "gridColor":{"condition":{"test":"abs(datum.value/0.02 - round(datum.value/0.02)) < 0.001","value":"#a0a0a0"},"value":"#cccccc"},
    "gridDash":{"condition":{"test":"abs(datum.value/0.02 - round(datum.value/0.02)) < 0.001","value":[]},"value":[1,1.5]}}},
  "strokeDash":{"field":"s","type":"nominal","scale":{"domain":["α=0°","α=5°","α=10°"],"range":[[1,0],[8,3,2,3],[2,2]]},"legend":{"title":null,"orient":"top-right","offset":5}}
 }
}],
 "resolve":{"scale":{"strokeDash":"independent"},"legend":{"strokeDash":"independent"}},
 "title":{"text":"(a)","orient":"bottom","font":"Liberation Serif","fontSize":21,"fontWeight":"normal","offset":2,"anchor":"middle","dx":18}},
{"vconcat":[{
 "title":{"text":"Stall, post-stall","offset":-3},
 "width":358,"height":373,
 "data":{"name":"post"},
 "mark":{"type":"line","color":"black","strokeWidth":2,"clip":true},
 "encoding":{
  "x":{"field":"f","type":"quantitative","scale":{"type":"log","domain":[30,1875],"nice":false},
   "axis":{"title":"f [Hz]","values":[30,40,50,60,70,80,90,100,200,300,400,500,600,700,800,900,1000],
    "labelExpr":"datum.value == 100 ? '10²' : datum.value == 1000 ? '10³' : ''","labelPadding":14,"titlePadding":12,
    "gridColor":{"condition":{"test":"datum.value == 100 || datum.value == 1000","value":"#a0a0a0"},"value":"#cccccc"},
    "gridDash":{"condition":{"test":"datum.value == 100 || datum.value == 1000","value":[]},"value":[1,1.5]}}},
  "y":{"field":"v","type":"quantitative","scale":{"domain":[0,0.4],"nice":false,"zero":false},
   "axis":{"title":"ly(f)/c [-]","values":[0,0.01,0.02,0.03,0.04,0.05,0.06,0.07,0.08,0.09,0.1,0.11,0.12,0.13,0.14,0.15,0.16,0.17,0.18,0.19,0.2,0.21,0.22,0.23,0.24,0.25,0.26,0.27,0.28,0.29,0.3,0.31,0.32,0.33,0.34,0.35,0.36,0.37,0.38,0.39,0.4],
    "labelExpr":"abs(datum.value/0.05 - round(datum.value/0.05)) < 0.001 ? datum.value + '' : ''","labelPadding":6,"titlePadding":10,
    "gridColor":{"condition":{"test":"abs(datum.value/0.05 - round(datum.value/0.05)) < 0.001","value":"#a0a0a0"},"value":"#cccccc"},
    "gridDash":{"condition":{"test":"abs(datum.value/0.05 - round(datum.value/0.05)) < 0.001","value":[]},"value":[1,1.5]}}},
  "strokeDash":{"field":"s","type":"nominal","scale":{"domain":["α=16°","α=17°","α=22°"],"range":[[1,0],[8,3,2,3],[2,2]]},"legend":{"title":null,"orient":"top-right","offset":5}}
 }
}],
 "resolve":{"scale":{"strokeDash":"independent"},"legend":{"strokeDash":"independent"}},
 "title":{"text":"(b)","orient":"bottom","font":"Liberation Serif","fontSize":21,"fontWeight":"normal","offset":2,"anchor":"middle","dx":18}}
],
"spacing":163,
"resolve":{"scale":{"strokeDash":"independent"},"legend":{"strokeDash":"independent"}}
}
